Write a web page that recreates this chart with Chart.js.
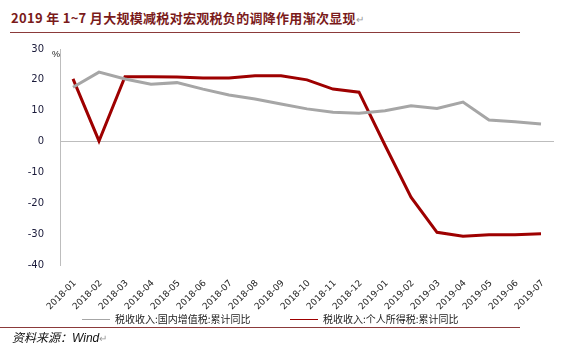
<!DOCTYPE html>
<html><head><meta charset="utf-8">
<script src="https://cdn.jsdelivr.net/npm/chart.js@4"></script>
<style>
html,body{margin:0;padding:0;background:#fff;}
#wrap{position:relative;width:568px;height:361px;overflow:hidden;}
#title{position:absolute;left:11px;top:8px;font:bold 13px "Noto Sans CJK SC",sans-serif;color:#7a1a1a;white-space:nowrap;letter-spacing:0.3px;}
#title span{color:#999;font-weight:normal;font-size:10px;}
#rule1{position:absolute;left:10px;top:32px;width:510px;height:1px;background:#8b3a3a;}
#rule2{position:absolute;left:0px;top:327px;width:520px;height:1px;background:#8b3a3a;}
#src{position:absolute;left:12px;top:328px;font:italic 12px "Noto Sans CJK SC",sans-serif;color:#111;white-space:nowrap;}
#src i{font-family:"Liberation Sans",sans-serif;}
#src span{color:#999;font-size:10px;font-style:normal;}
canvas{position:absolute;left:0;top:0;}
</style></head>
<body><div id="wrap">
<div id="title">2019 年 1~7 月大规模减税对宏观税负的调降作用渐次显现<span>↵</span></div>
<div id="rule1"></div>
<canvas id="c" width="568" height="361"></canvas>
<div id="rule2"></div>
<div id="src">资料来源：<i>Wind</i><span>↵</span></div>
</div>
<script>
const categories = ["2018-01","2018-02","2018-03","2018-04","2018-05","2018-06","2018-07","2018-08","2018-09","2018-10","2018-11","2018-12","2019-01","2019-02","2019-03","2019-04","2019-05","2019-06","2019-07"];
const vatLabel = "税收收入:国内增值税:累计同比";
const vatValues = [17.6,22.5,20.3,18.6,19.1,17.0,15.1,13.8,12.2,10.6,9.5,9.2,10.0,11.6,10.7,12.8,7.0,6.4,5.7];
const pitLabel = "税收收入:个人所得税:累计同比";
const pitValues = [20.3,0.2,21.0,21.0,20.9,20.6,20.6,21.3,21.3,20.0,17.0,16.0,-1.2,-18.0,-29.4,-30.7,-30.2,-30.2,-29.9];
const yTicks = {min:-40,max:30,step:10};

const legendPlugin = {
  id:'customLegend',
  afterDraw(chart){
    const ctx = chart.ctx;
    const pos = [{x:82,ty:319},{x:290,ty:319}];
    chart.data.datasets.forEach((ds,i)=>{
      const p = pos[i];
      ctx.save();
      ctx.strokeStyle = ds.borderColor;
      ctx.lineWidth = 1;
      ctx.beginPath();ctx.moveTo(p.x,p.ty+0.5);ctx.lineTo(p.x+28,p.ty+0.5);ctx.stroke();
      ctx.fillStyle = '#222';
      ctx.font = '10px "Noto Sans CJK SC", sans-serif';
      ctx.textBaseline = 'middle';
      ctx.fillText(ds.label,p.x+33,p.ty);
      ctx.restore();
    });
    ctx.save();
    ctx.fillStyle='#222';
    ctx.font='9px "Liberation Sans", sans-serif';
    ctx.textBaseline='middle';
    ctx.fillText('%',chart.chartArea.left-8,chart.chartArea.top+6);
    ctx.restore();
  }
};

new Chart(document.getElementById('c'),{
  type:'line',
  data:{
    labels:categories,
    datasets:[
      {label:vatLabel,data:vatValues,borderColor:'#a6a6a6',borderWidth:3,pointRadius:0,tension:0,fill:false},
      {label:pitLabel,data:pitValues,borderColor:'#9e0000',borderWidth:3,pointRadius:0,tension:0,fill:false}
    ]
  },
  options:{
    responsive:false,animation:false,
    layout:{padding:{left:0,right:14,top:49,bottom:49}},
    plugins:{legend:{display:false},tooltip:{enabled:false},title:{display:false}},
    scales:{
      x:{
        offset:true,
        border:{display:false},
        grid:{display:false},
        ticks:{maxRotation:45,minRotation:45,autoSkip:false,color:'#222',padding:5,labelOffset:2,
          font:{family:'"DejaVu Sans", sans-serif',size:9}},
        afterFit(s){s.height=47;}
      },
      y:{
        min:yTicks.min,max:yTicks.max,
        border:{display:true,color:'#bdbdbd',width:1},
        grid:{drawTicks:false,lineWidth:1,color:(c)=>c.tick&&c.tick.value===0?'#bdbdbd':'rgba(0,0,0,0)'},
        ticks:{stepSize:yTicks.step,color:'#1a1a3a',padding:16,
          font:{family:'"DejaVu Sans", sans-serif',size:10}},
        afterFit(s){s.width=60;}
      }
    }
  },
  plugins:[legendPlugin]
});
</script>
</body></html>
